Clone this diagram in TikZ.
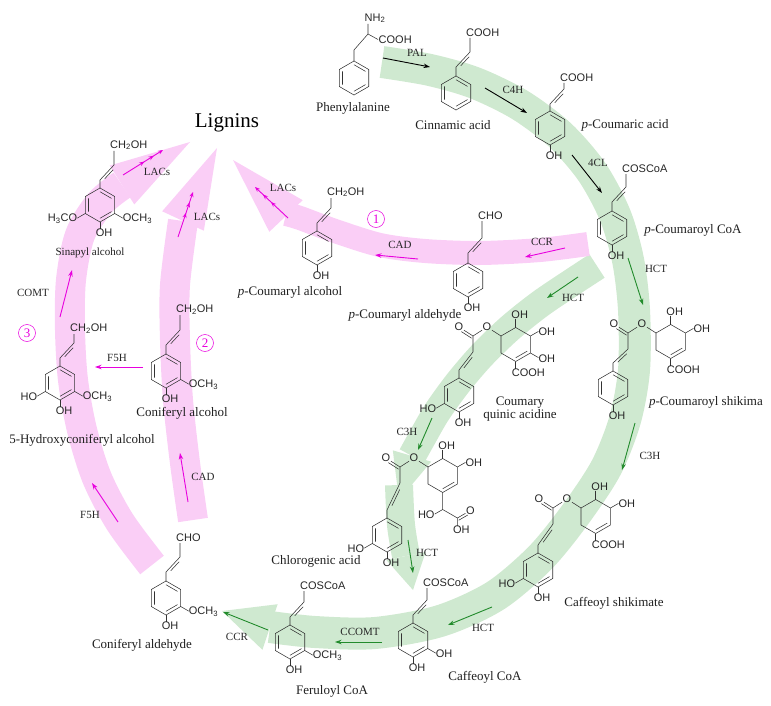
\documentclass[tikz,border=0pt]{standalone}
\usepackage{fontspec}
\setmainfont{Liberation Serif}
\setsansfont{Liberation Sans}
\usetikzlibrary{arrows.meta}
\usetikzlibrary{calc,positioning}

\definecolor{bandpink}{RGB}{250,206,246}
\definecolor{bandgreen}{RGB}{207,233,208}
\definecolor{enzpink}{RGB}{232,0,222}
\definecolor{enzgreen}{RGB}{34,139,44}

\tikzset{
  bond/.style={draw=black!80, line width=0.55pt},
  chem/.style={font=\sffamily\fontsize{11}{12}\selectfont, inner sep=0.5pt, text=black!85},
  cname/.style={font=\fontsize{13}{13}\selectfont, inner sep=0pt, text=black!88, align=center},
  enz/.style={font=\fontsize{11}{12}\selectfont, inner sep=0pt, text=black!85},
  enzarr/.style={line width=0.9pt},
  lacs/.style={line width=0.9pt, draw=enzpink,
    -{Stealth[length=5pt,width=4pt,sep=6pt]Stealth[length=5pt,width=4pt,sep=6pt]Stealth[length=5pt,width=4pt]}},
  band/.style={line width=#1, line cap=butt},
  numc/.style={circle, draw=enzpink, text=enzpink, line width=0.5pt, inner sep=0pt,
    minimum size=17pt, font=\fontsize{13}{13}\selectfont}
}

% rings
\newcommand\hexa[2]{%
  \coordinate (#1) at (#2);
  \path (#1) +(-90:17) coordinate (#1t) +(-30:17) coordinate (#1tr)
        +(30:17) coordinate (#1br) +(90:17) coordinate (#1b)
        +(150:17) coordinate (#1bl) +(210:17) coordinate (#1tl);
  \draw[bond] (#1t) -- (#1tr) -- (#1br) -- (#1b) -- (#1bl) -- (#1tl) -- cycle;}
\newcommand\benz[2]{\hexa{#1}{#2}
  \draw[bond] ($(#1)!.78!(#1tl)$) -- ($(#1)!.78!(#1bl)$)
    ($(#1)!.78!(#1t)$) -- ($(#1)!.78!(#1tr)$)
    ($(#1)!.78!(#1br)$) -- ($(#1)!.78!(#1b)$);}
\newcommand\cyc[2]{\hexa{#1}{#2}
  \draw[bond] ($(#1)!.78!(#1br)$) -- ($(#1)!.78!(#1b)$);}

% side chains
\newcommand\cinn[5]{%
  \path (#1t) ++(0,-#4) coordinate (#2a) ++(14,-15) coordinate (#2b) ++(0,-#5) coordinate (#2c);
  \draw[bond] (#1t) -- (#2a) -- (#2b) -- (#2c);
  \draw[bond] ($(#2a)!.2!(#2b)!2.6pt!-90:(#2b)$) -- ($(#2b)!.2!(#2a)!2.6pt!90:(#2a)$);
  \node[chem, anchor=south west] (#2) at ($(#2c)+(-4.5,-0.3)$) {#3};}
\newcommand\ester[3]{%
  \coordinate (#2c) at (#3);
  \path (#1t) ++(0,-8) coordinate (#2a);
  \path (#2c) ++(0,16) coordinate (#2b);
  \draw[bond] (#1t) -- (#2a) -- (#2b) -- (#2c);
  \draw[bond] ($(#2a)!.2!(#2b)!2.6pt!-90:(#2b)$) -- ($(#2b)!.2!(#2a)!2.6pt!90:(#2a)$);
  \node[chem] (#2o1) at ($(#2c)+(-14,-9)$) {O};
  \node[chem] (#2o2) at ($(#2c)+(14,-9)$) {O};
  \draw[bond] (#2c) -- (#2o1) (#2c) -- (#2o2) (#2o2) -- ($(#2c)+(28,0)$);
  \draw[bond] ($(#2c)!2.6pt!90:(#2o1)$) -- ($(#2o1)!4.5pt!(#2c)!2.6pt!-90:(#2c)$);}

% substituents
\newcommand\subB[3]{\draw[bond] (#1b) -- ++(0,7);
  \node[chem, anchor=north] (#2) at ($(#1b)+(4,6.5)$) {#3};}
\newcommand\subR[3]{\draw[bond] (#1br) -- ++(8,4.6);
  \node[chem, anchor=west] (#2) at ($(#1br)+(7.5,5.5)$) {#3};}
\newcommand\subL[3]{\draw[bond] (#1bl) -- ++(-8,4.6);
  \node[chem, anchor=east] (#2) at ($(#1bl)+(-7.5,5.5)$) {#3};}
\newcommand\subT[3]{\draw[bond] (#1t) -- ++(0,-9);
  \node[chem, anchor=south] (#2) at ($(#1t)+(4,-8.5)$) {#3};}
\newcommand\subTR[3]{\draw[bond] (#1tr) -- ++(8,-4.6);
  \node[chem, anchor=west] (#2) at ($(#1tr)+(7.5,-4.6)$) {#3};}
\newcommand\subBc[3]{\draw[bond] (#1b) -- ++(0,7);
  \node[chem, anchor=north west] (#2) at ($(#1b)+(-4.5,6.5)$) {#3};}

% band arrow head
\newcommand\bandhead[4]{\fill[#1] ($(#3)!#4!90:(#2)$) -- (#2) -- ($(#3)!#4!-90:(#2)$) -- cycle;}

\begin{document}
\begin{tikzpicture}[x=1pt, y=-1pt, >={Stealth[length=6.5pt,width=4.5pt]}]
\useasboundingbox (0,0) rectangle (771,706);

% bands
\draw[band=32pt, draw=bandgreen] plot[smooth] coordinates {(382,62) (430,70) (475,83) (520,105) (560,135) (592,172) (615,215) (628,260) (634,310) (634,370) (625,420) (606,468) (575,515) (540,558) (495,596) (440,621) (375,633) (315,632) (270,627)};
\bandhead{bandgreen}{222,611}{270,627}{24pt}
\draw[band=28pt, draw=bandgreen] plot[smooth] coordinates {(597,266) (571,283) (540,304) (510,328) (482,355) (458,383) (437,412) (422,438) (412,456)};
\bandhead{bandgreen}{399,500}{412,456}{20pt}
\draw[band=28pt, draw=bandgreen] plot[smooth] coordinates {(399,485) (401,525) (406,556)};
\bandhead{bandgreen}{413,590}{406,556}{20pt}

\draw[band=24pt, draw=bandpink] plot[smooth] coordinates {(588,244) (540,250) (480,253) (425,251) (380,245) (335,231) (300,218) (286,214)};
\bandhead{bandpink}{233,160}{286,216}{23pt}
\draw[band=30pt, draw=bandpink] plot[smooth] coordinates {(193,520) (185,463) (178,400) (175,340) (175,285) (183,221)};
\bandhead{bandpink}{217,148}{183,221}{23pt}
\draw[band=30pt, draw=bandpink] plot[smooth] coordinates {(152,565) (120,522) (97,478) (82,430) (73,380) (70,330) (71,280) (80,235) (100,203) (122,185)};
\bandhead{bandpink}{190,142}{122,185}{23pt}

% Phenylalanine
\benz{phe}{354,78}
\path (phet) ++(0,-11) coordinate (phea) ++(14,-16) coordinate (pheb);
\draw[bond] (phet) -- (phea) -- (pheb) -- ++(0,-10);
\node[chem, anchor=south west] (nh2) at ($(pheb)+(-4,-10.5)$) {NH\textsubscript{2}};
\node[chem, anchor=west] (phecooh) at ($(pheb)+(10,5.5)$) {COOH};
\draw[bond] (pheb) -- (phecooh.west);
\node[cname] (phename) at (353,108) {Phenylalanine};

% Cinnamic acid
\benz{cin}{456,93}
\cinn{cin}{cina}{COOH}{9}{14}
\node[cname] (cinname) at (453,125) {Cinnamic acid};

% p-Coumaric acid
\benz{pca}{550,128}
\cinn{pca}{pcaa}{COOH}{7}{6}
\subB{pca}{pcaoh}{OH}
\node[cname] (pcaname) at (625,125) {\textit{p}-Coumaric acid};

% p-Coumaroyl CoA
\benz{pcc}{612,228}
\cinn{pcc}{pcca}{COSCoA}{9}{13}
\subB{pcc}{pccoh}{OH}
\node[cname] (pccname) at (693,230) {\textit{p}-Coumaroyl CoA};

% p-Coumaroyl shikimate
\benz{pcs}{613,388}
\ester{pcs}{pcse}{628,333}
\cyc{pcsr}{$(pcsec)+(42.7,8.5)$}
\subB{pcs}{pcsoh}{OH}
\subT{pcsr}{pcsoh1}{OH}
\subTR{pcsr}{pcsoh2}{OH}
\subBc{pcsr}{pcscooh}{COOH}
\node[cname] (pcsname) at (706,402) {\textit{p}-Coumaroyl shikima};

% Coumary quinic acidine
\benz{cqa}{459,395}
\ester{cqa}{cqae}{473,336}
\cyc{cqar}{$(cqaec)+(42.7,8.5)$}
\subL{cqa}{cqaho}{HO}
\subB{cqa}{cqaoh}{OH}
\subT{cqar}{cqaoh1}{OH}
\subTR{cqar}{cqaoh2}{OH}
\subR{cqar}{cqaoh3}{OH}
\subBc{cqar}{cqacooh}{COOH}
\node[cname] (cqaname) at (520,409) {Coumary\\quinic acidine};

% p-Coumaryl aldehyde
\benz{pcd}{468,280}
\cinn{pcd}{pcda}{CHO}{10}{17}
\subB{pcd}{pcdoh}{OH}
\node[cname] (pcdname) at (405,315) {\textit{p}-Coumaryl aldehyde};

% p-Coumaryl alcohol
\benz{pcl}{317,248}
\cinn{pcl}{pcla}{CH\textsubscript{2}OH}{8}{10}
\subB{pcl}{pcloh}{OH}
\node[cname] (pclname) at (290,292) {\textit{p}-Coumaryl alcohol};

% Sinapyl alcohol
\benz{sin}{100,205}
\cinn{sin}{sina}{CH\textsubscript{2}OH}{8}{14}
\subL{sin}{sinl}{H\textsubscript{3}CO}
\subR{sin}{sinr}{OCH\textsubscript{3}}
\subB{sin}{sinoh}{OH}
\node[cname, font=\fontsize{11}{12}\selectfont] (sinname) at (90,253) {Sinapyl alcohol};

% Coniferyl alcohol
\benz{cfl}{166,371}
\cinn{cfl}{cfla}{CH\textsubscript{2}OH}{9}{15}
\subR{cfl}{cflr}{OCH\textsubscript{3}}
\subB{cfl}{cfloh}{OH}
\node[cname] (cflname) at (182,413) {Coniferyl alcohol};

% 5-Hydroxyconiferyl alcohol
\benz{hcl}{60,383}
\cinn{hcl}{hcla}{CH\textsubscript{2}OH}{8}{9}
\subL{hcl}{hcll}{HO}
\subR{hcl}{hclr}{OCH\textsubscript{3}}
\subB{hcl}{hcloh}{OH}
\node[cname] (hclname) at (82,440) {5-Hydroxyconiferyl alcohol};

% Coniferyl aldehyde
\benz{cfd}{166,598}
\cinn{cfd}{cfda}{CHO}{9}{14}
\subR{cfd}{cfdr}{OCH\textsubscript{3}}
\subB{cfd}{cfdoh}{OH}
\node[cname] (cfdname) at (142,645) {Coniferyl aldehyde};

% Feruloyl CoA
\benz{fer}{290,642}
\cinn{fer}{fera}{COSCoA}{8}{11}
\subR{fer}{ferr}{OCH\textsubscript{3}}
\subB{fer}{feroh}{OH}
\node[cname] (fername) at (332,691) {Feruloyl CoA};

% Caffeoyl CoA
\benz{caf}{413,640}
\cinn{caf}{cafa}{COSCoA}{8}{12}
\subR{caf}{cafr}{OH}
\subB{caf}{cafoh}{OH}
\node[cname] (cafname) at (485,677) {Caffeoyl CoA};

% Caffeoyl shikimate
\benz{cfs}{538,570}
\ester{cfs}{cfse}{553,508}
\cyc{cfsr}{$(cfsec)+(42.7,8.5)$}
\subL{cfs}{cfsho}{HO}
\subB{cfs}{cfsoh}{OH}
\subT{cfsr}{cfsoh1}{OH}
\subTR{cfsr}{cfsoh2}{OH}
\subBc{cfsr}{cfscooh}{COOH}
\node[cname] (cfsname) at (614,603) {Caffeoyl shikimate};

% Chlorogenic acid
\benz{chl}{387,535}
\ester{chl}{chle}{400,467}
\cyc{chlr}{$(chlec)+(42.7,8.5)$}
\subL{chl}{chlho}{HO}
\subB{chl}{chloh}{OH}
\subT{chlr}{chloh1}{OH}
\subTR{chlr}{chloh2}{OH}
\path (chlrb) ++(0,17) coordinate (chlch) ++(14.7,8.5) coordinate (chlcc);
\draw[bond] (chlrb) -- (chlch) -- (chlcc) (chlch) -- ++(-8,4.6) (chlcc) -- ++(0,8);
\node[chem, anchor=east] (chlho2) at ($(chlch)+(-7.5,5.5)$) {HO};
\node[chem] (chlo3) at ($(chlcc)+(13,-7.5)$) {O};
\node[chem, anchor=north] (chloh3) at ($(chlcc)+(4,7.5)$) {OH};
\draw[bond] (chlcc) -- (chlo3);
\draw[bond] ($(chlcc)!2.6pt!-90:(chlo3)$) -- ($(chlo3)!4.5pt!(chlcc)!2.6pt!90:(chlcc)$);
\node[cname] (chlname) at (316,561) {Chlorogenic acid};

% enzymes, first steps
\draw[->, enzarr] (383,58) -- (430,67);
\node[enz] (pal) at (417,53) {PAL};
\draw[->, enzarr] (485,88) -- (527,113);
\node[enz] (c4h) at (513,90) {C4H};
\draw[->, enzarr] (572,155) -- (602,193);
\node[enz] (fcl) at (598,163) {4CL};

% green steps
\draw[->, enzarr, enzgreen] (628,258) -- (643,305);
\node[enz] (hct1) at (656,269) {HCT};
\draw[->, enzarr, enzgreen] (578,277) -- (547,298);
\node[enz] (hct2) at (573,298) {HCT};
\draw[->, enzarr, enzgreen] (635,423) -- (622,470);
\node[enz] (c3h1) at (650,456) {C3H};
\draw[->, enzarr, enzgreen] (432,418) -- (418,450);
\node[enz] (c3h2) at (407,432) {C3H};
\draw[->, enzarr, enzgreen] (408,540) -- (413,573);
\node[enz] (hct3) at (427,553) {HCT};
\draw[->, enzarr, enzgreen] (492,607) -- (448,625);
\node[enz] (hct4) at (483,628) {HCT};
\draw[->, enzarr, enzgreen] (382,642) -- (335,642);
\node[enz] (ccomt) at (360,632) {CCOMT};
\draw[->, enzarr, enzgreen] (268,630) -- (223,612);
\node[enz] (ccr2) at (237,637) {CCR};

% pink steps
\draw[->, enzarr, enzpink] (565,248) -- (525,257);
\node[enz] (ccr1) at (542,242) {CCR};
\draw[->, enzarr, enzpink] (418,259) -- (375,255);
\node[enz] (cad1) at (400,245) {CAD};
\draw[lacs] (288,218) -- (255,187);
\node[enz] (lacs1) at (283,188) {LACs};
\draw[lacs] (178,237) -- (193,192);
\node[enz] (lacs2) at (207,217) {LACs};
\draw[lacs] (123,175) -- (163,150);
\node[enz] (lacs3) at (157,172) {LACs};
\draw[->, enzarr, enzpink] (143,367) -- (95,367);
\node[enz] (f5h1) at (117,358) {F5H};
\draw[->, enzarr, enzpink] (60,317) -- (72,270);
\node[enz] (comt) at (33,293) {COMT};
\draw[->, enzarr, enzpink] (188,502) -- (180,453);
\node[enz] (cad2) at (203,477) {CAD};
\draw[->, enzarr, enzpink] (118,522) -- (92,483);
\node[enz] (f5h2) at (90,515) {F5H};

\node[font=\fontsize{21}{24}\selectfont, inner sep=0pt] (lignin) at (227,123) {Lignins};
\node[numc] (n1) at (376,219) {1};
\node[numc] (n2) at (205,343) {2};
\node[numc] (n3) at (27,333) {3};
\end{tikzpicture}
\end{document}
